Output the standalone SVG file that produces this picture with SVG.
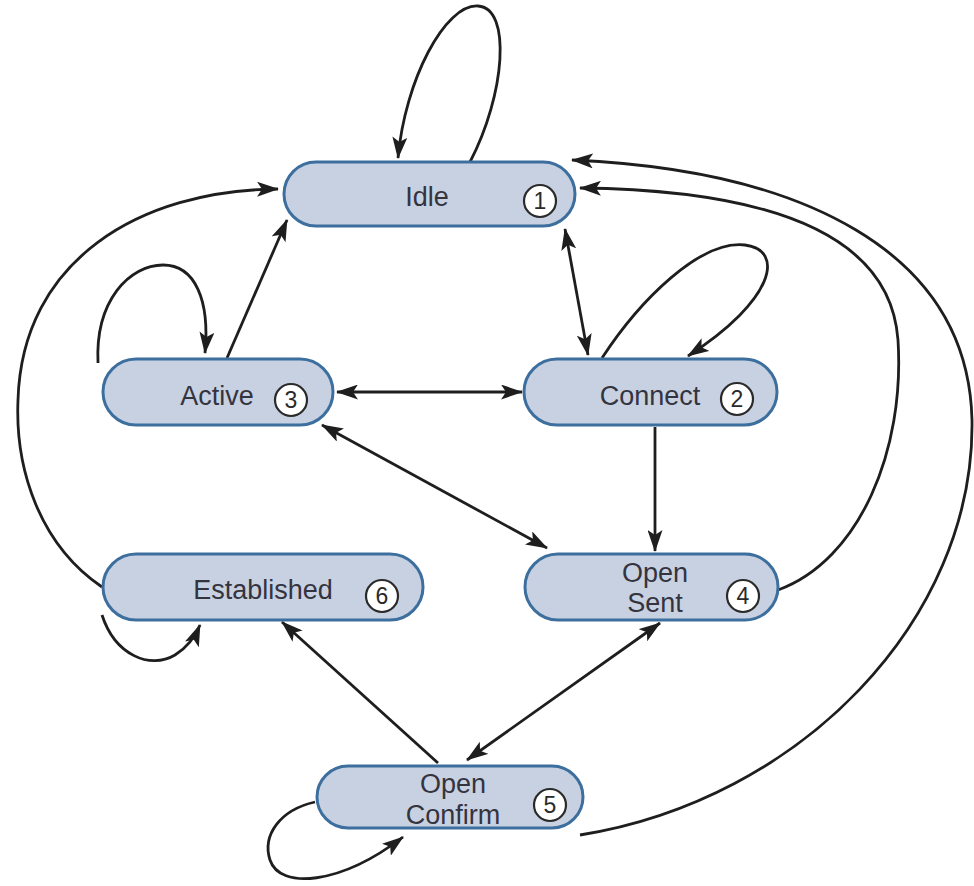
<svg xmlns="http://www.w3.org/2000/svg" width="974" height="886" viewBox="0 0 974 886">
<style>
.node{fill:#c8d1e2;stroke:#3d6f9e;stroke-width:3}
.lbl{font-family:"Liberation Sans",Arial,sans-serif;font-size:27px;fill:#34343f;text-anchor:middle}
.num{fill:#ffffff;stroke:#2a2a2a;stroke-width:2.2}
.numt{font-family:"Liberation Sans",Arial,sans-serif;font-size:23px;fill:#2a2a2a;text-anchor:middle}
.c{fill:none;stroke:#1e1e1e;stroke-width:2.8}
</style>
<defs>
<marker id="ah" viewBox="0 0 22 15" refX="21" refY="7.5" markerWidth="22" markerHeight="15" markerUnits="userSpaceOnUse" orient="auto-start-reverse">
<path d="M0,0 L22,7.5 L0,15 L5,7.5 Z" fill="#1e1e1e"/>
</marker>
</defs>
<rect width="974" height="886" fill="#ffffff"/>
<g id="connectors">
<path class="c" d="M470,162 C505,95 512,8 478,6 C445,4 405,80 398,158" marker-end="url(#ah)"/>
<path class="c" d="M98,363 C95,300 130,265 163,265 C195,265 210,300 205,353" marker-end="url(#ah)"/>
<path class="c" d="M227,358 L287,220" marker-end="url(#ah)"/>
<path class="c" d="M102,587 C40,545 15,470 18,400 C22,260 140,190 278,189" marker-end="url(#ah)"/>
<path class="c" d="M565,229 L588,355" marker-start="url(#ah)" marker-end="url(#ah)"/>
<path class="c" d="M602,358 C640,300 700,240 745,245 C785,250 775,300 688,356" marker-end="url(#ah)"/>
<path class="c" d="M337,392 L522,392" marker-start="url(#ah)" marker-end="url(#ah)"/>
<path class="c" d="M322,425 L547,548" marker-start="url(#ah)" marker-end="url(#ah)"/>
<path class="c" d="M655,427 L655,551" marker-end="url(#ah)"/>
<path class="c" d="M778,590 C860,560 905,450 898,340 C890,230 760,190 580,188" marker-end="url(#ah)"/>
<path class="c" d="M580,835 C800,800 975,620 972,420 C968,250 800,170 572,160" marker-end="url(#ah)"/>
<path class="c" d="M660,623 L467,760" marker-start="url(#ah)" marker-end="url(#ah)"/>
<path class="c" d="M438,763 L282,622" marker-end="url(#ah)"/>
<path class="c" d="M102,615 C115,655 150,670 175,655 C188,647 195,637 200,625" marker-end="url(#ah)"/>
<path class="c" d="M315,802 C280,810 262,835 270,860 C280,890 340,885 403,837" marker-end="url(#ah)"/>
</g>
<g id="idle">
<rect class="node" x="284" y="162" width="291" height="64" rx="32"/>
<text class="lbl" x="427" y="206">Idle</text>
<circle class="num" cx="540" cy="201" r="16"/>
<text class="numt" x="540" y="209">1</text>
</g>
<g id="active">
<rect class="node" x="103" y="359" width="230" height="66" rx="33"/>
<text class="lbl" x="217" y="405">Active</text>
<circle class="num" cx="291" cy="400" r="16"/>
<text class="numt" x="291" y="408">3</text>
</g>
<g id="connect">
<rect class="node" x="524" y="359" width="253" height="66" rx="33"/>
<text class="lbl" x="650" y="405">Connect</text>
<circle class="num" cx="737" cy="399" r="16"/>
<text class="numt" x="737" y="407">2</text>
</g>
<g id="established">
<rect class="node" x="103" y="554" width="320" height="66" rx="33"/>
<text class="lbl" x="263" y="599">Established</text>
<circle class="num" cx="382" cy="596" r="16"/>
<text class="numt" x="382" y="604">6</text>
</g>
<g id="opensent">
<rect class="node" x="525" y="554" width="253" height="66" rx="33"/>
<text class="lbl" x="655" y="582">Open</text>
<text class="lbl" x="655" y="612">Sent</text>
<circle class="num" cx="743" cy="596" r="16"/>
<text class="numt" x="743" y="604">4</text>
</g>
<g id="openconfirm">
<rect class="node" x="317" y="766" width="266" height="62" rx="31"/>
<text class="lbl" x="453" y="793">Open</text>
<text class="lbl" x="453" y="824">Confirm</text>
<circle class="num" cx="550" cy="805" r="16"/>
<text class="numt" x="550" y="813">5</text>
</g>
</svg>
